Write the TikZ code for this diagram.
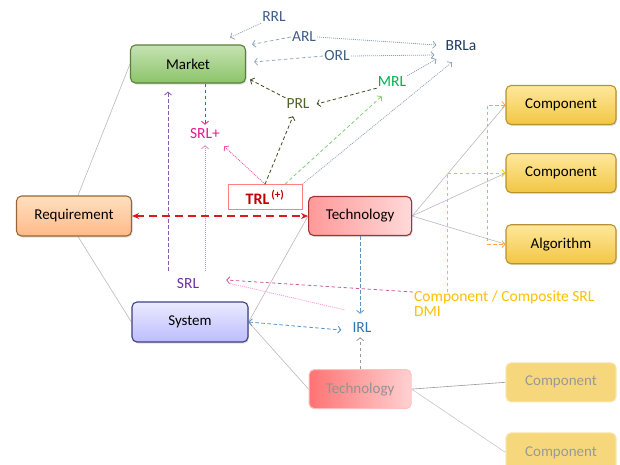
\documentclass[tikz,border=0pt]{standalone}
\usepackage{fontspec}
\setmainfont{Carlito}
\usepackage{tikz}
\usetikzlibrary{arrows.meta, backgrounds, shadows}
\usetikzlibrary{positioning}

\definecolor{slate}{HTML}{3E5D84}
\definecolor{navy}{HTML}{1F3864}
\definecolor{olive}{HTML}{4F6228}
\definecolor{mgreen}{HTML}{00B050}
\definecolor{pinkish}{HTML}{E8198B}
\definecolor{purple}{HTML}{7030A0}
\definecolor{iblue}{HTML}{2E75B6}
\definecolor{trlred}{HTML}{C00000}
\definecolor{gold}{HTML}{FFC000}
\definecolor{mkttop}{HTML}{C5E2B2}
\definecolor{mktbot}{HTML}{8CC46A}
\definecolor{mktline}{HTML}{5B803A}
\definecolor{comptop}{HTML}{FFE89C}
\definecolor{compbot}{HTML}{F2C644}
\definecolor{compline}{HTML}{B8922E}
\definecolor{sysline}{HTML}{3F3F80}

\tikzset{
    block/.style={rounded corners=5pt, minimum width=110pt, minimum height=39pt,
        line width=1.1pt, font=\fontsize{15}{17}\selectfont},
    raised/.style={drop shadow={opacity=0.25, shadow xshift=1pt, shadow yshift=-1.5pt}},
    level/.style={font=\fontsize{15.5}{18}\selectfont, inner sep=1pt},
    branch/.style={draw=gray!55, line width=0.6pt},
    opentip/.style={-{Straight Barb[length=3pt,width=7pt]}},
    bothtips/.style={{Straight Barb[length=3pt,width=7pt]}-{Straight Barb[length=3pt,width=7pt]}},
    dashes/.style={line width=0.8pt, dash pattern=on 3.5pt off 2.5pt},
    dots/.style={line width=0.8pt, dash pattern=on 1pt off 1pt},
}

\begin{document}
\begin{tikzpicture}[x=1pt, y=-1pt]

\useasboundingbox (0,0) rectangle (620,464);

% main blocks
\node [block, raised,
    draw=mktline,
    top color=mkttop,
    bottom color=mktbot,
    minimum width=115pt,
    minimum height=38pt
] (market) at (188,64) {Market};

\node [block, raised,
    draw=brown!80!black,
    top color=orange!25!white,
    bottom color=orange!55!pink!70,
    minimum width=115pt,
    minimum height=40pt
] (requirement) at (74,216) {Requirement};

\node [block, raised,
    draw=red!55!black!80,
    left color=red!40!white,
    right color=red!15!white,
    minimum width=103pt,
    right=176pt of requirement
] (technology) {Technology};

\node [block, raised,
    draw=sysline,
    top color=blue!8!white,
    bottom color=blue!26!white,
    minimum width=116pt,
    minimum height=40pt
] (system) at (190,322) {System};

\node [block,
    draw=red!25,
    left color=red!55!white,
    right color=red!18!white,
    text=gray!85,
    minimum width=102pt,
    below=133pt of technology
] (tech_faded) {Technology};

% components
\node [block, raised,
    draw=compline,
    top color=comptop,
    bottom color=compbot,
] (comp_1) at (561,105) {Component};

\node [block, raised,
    draw=compline,
    top color=comptop,
    bottom color=compbot,
    below=28pt of comp_1
] (comp_2) {Component};

\node [block, raised,
    draw=compline,
    top color=comptop,
    bottom color=compbot,
    below=31pt of comp_2
] (algorithm) {Algorithm};

\node [block,
    draw=compbot!45,
    fill=compbot!70,
    text=gray!80,
    below=98pt of algorithm
] (comp_3) {Component};

\node [block,
    draw=compbot!45,
    fill=compbot!70,
    text=gray!80,
    below=30pt of comp_3
] (comp_4) {Component};

% readiness levels
\node [level, text=slate] (rrl) at (274,17) {RRL};
\node [level, text=slate] (arl) at (304,37) {ARL};
\node [level, text=slate] (orl) at (337,56) {ORL};
\node [level, text=navy] (brla) at (461,46) {BRLa};
\node [level, text=mgreen] (mrl) at (392,82) {MRL};
\node [level, text=olive] (prl) at (298,104) {PRL};
\node [level, text=pinkish] (srl_plus) at (205,134) {SRL+};
\node [level, text=purple] (srl) at (188,284) {SRL};
\node [level, text=iblue] (irl) at (362,328) {IRL};

\node [draw=red!50,
    fill=white,
    line width=0.7pt,
    minimum width=74pt,
    minimum height=25pt,
    text=trlred,
    font=\fontsize{16}{18}\selectfont\bfseries
] (trl) at (265,197) {TRL\textsuperscript{\,(+)}};

\node [level, text=gold, anchor=west] (comp_srl) at (413,297) {Component / Composite SRL};
\node [level, text=gold, below right=1pt and 0pt of comp_srl.south west] (dmi) {DMI};

% structure lines
\begin{pgfonlayer}{background}
\draw [branch] ([xshift=4pt]requirement.north) -- (market.west);
\draw [branch] ([xshift=4pt]requirement.south) -- (system.west);
\draw [branch] (technology.west) -- (system.east);
\draw [branch] (system.east) -- (tech_faded.west);
\draw [branch] (technology.east) -- (comp_1.west);
\draw [branch] (technology.east) -- (comp_2.west);
\draw [branch] (technology.east) -- (algorithm.west);
\draw [branch, draw=gray!80] (tech_faded.east) -- (comp_3.west);
\draw [branch, draw=gray!45] (tech_faded.east) -- (comp_4.west);
\end{pgfonlayer}

% level links
\draw [opentip, dots, draw=slate!55] (rrl.south west) -- ([xshift=-16pt,yshift=7pt]market.north east);
\draw [opentip, dashes, draw=slate!55] (arl.west) -- ([xshift=6pt]market.north east);
\draw [opentip, dashes, draw=slate!55] (orl.west) -- ([xshift=8pt,yshift=2pt]market.east);
\draw [opentip, dots, draw=slate!60] (arl.east) -- ([xshift=-8pt,yshift=1pt]brla.west);
\draw [opentip, dots, draw=slate!60] (orl.east) -- ([xshift=-10pt,yshift=-9pt]brla.west);
\draw [opentip, dots, draw=slate!60] (mrl.north east) -- ([xshift=-8pt,yshift=-7pt]brla.south west);
\draw [opentip, dots, draw=slate!55] (trl.north east) -- ([xshift=-9pt,yshift=-10pt]brla.south);
\draw [opentip, dashes, draw=olive!50!green!60] ([xshift=20pt]trl.north) -- ([xshift=5pt,yshift=-8pt]mrl.south west);
\draw [opentip, dashes, draw=olive!80!black] (trl.north) -- ([xshift=-5pt,yshift=-6pt]prl.south);
\draw [opentip, dots, draw=pinkish!75] (trl.north) -- ([xshift=3pt,yshift=-6pt]srl_plus.south east);
\draw [opentip, dashes, draw=olive!80!black] (mrl.south west) -- ([xshift=6pt]prl.east);
\draw [opentip, dashes, draw=olive!70!black] (prl.north west) -- ([xshift=4pt,yshift=4pt]market.south east);
\draw [opentip, dashes, draw=pinkish] (market.south -| srl_plus.north) -- ([yshift=3pt]srl_plus.north);

\coordinate (srl_up) at ([xshift=-20pt,yshift=7pt]srl.north);
\draw [opentip, dashes, draw=purple!80] (srl_up) -- ([yshift=-8pt]srl_up |- market.south);
\draw [opentip, dots, draw=pinkish!55] ([yshift=7pt]srl_plus.south |- srl.north) -- ([yshift=-5pt]srl_plus.south);

\draw [{Stealth[length=7pt,width=6pt]}-{Stealth[length=7pt,width=6pt]},
    draw=red!85!black!90,
    line width=2pt,
    dash pattern=on 8pt off 5pt
] (requirement.east) -- (technology.west);

\draw [opentip, dashes, draw=iblue!80] (technology.south) -- ([yshift=8pt]technology.south |- irl.north);
\draw [bothtips, dashes, draw=iblue!80] (system.east) -- ([xshift=-10pt,yshift=-2pt]irl.west);
\draw [opentip, dashes, draw=gray!80] (tech_faded.north) -- ([yshift=-3pt]tech_faded.north |- irl.south);

\draw [opentip, dashes, draw=magenta!60!purple!80] ([yshift=5pt]comp_srl.west) -- ([xshift=26pt,yshift=4pt]srl.east);
\draw [dots, draw=magenta!40] ([xshift=-7pt,yshift=12pt]irl.north west) -- ([xshift=28pt,yshift=1pt]srl.east);

\draw [opentip, dashes, draw=gold] ([xshift=34pt,yshift=-3pt]comp_srl.north west) |- (comp_2.west);
\draw [bothtips, dashes, draw=orange!70] (comp_1.west) -| ([xshift=-18pt]comp_1.west) |- (algorithm.west);

\end{tikzpicture}
\end{document}
